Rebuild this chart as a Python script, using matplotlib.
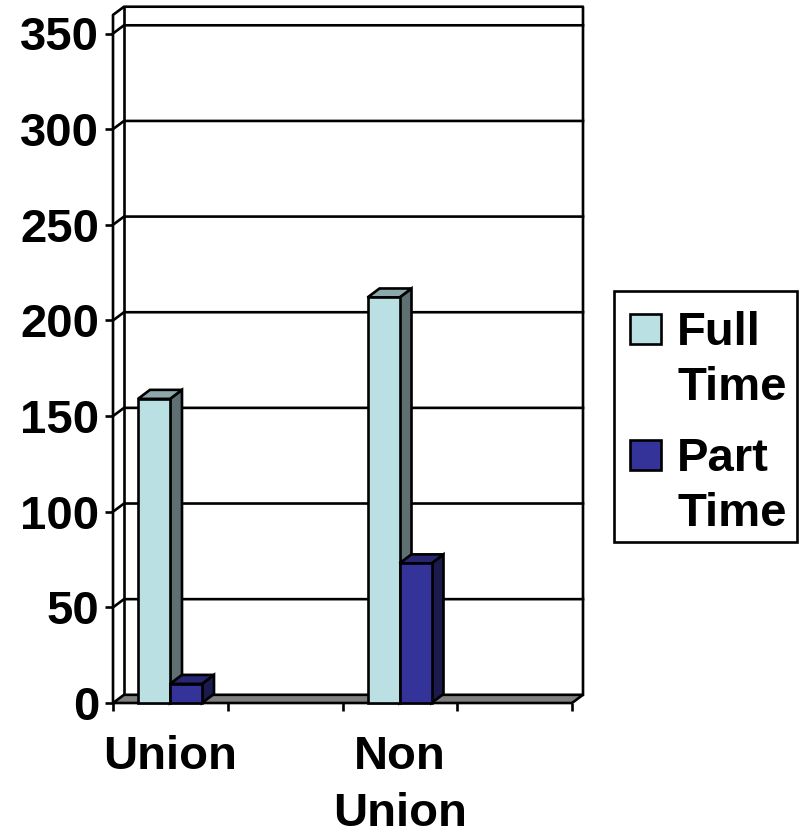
import matplotlib
matplotlib.use('Agg')
import matplotlib.pyplot as plt
from matplotlib.patches import Polygon, Rectangle

# values
cat_pos = [0, 2]
full_time = [159, 212]
part_time = [10, 73]
y_ticks = [0, 50, 100, 150, 200, 250, 300, 350]
x_labels = ['Union', 'Non\nUnion']
series_names = ['Full\nTime', 'Part\nTime']

light = ['#BBE0E3', '#8DA8AA', '#5E7072']
dark = ['#333399', '#262673', '#1A1A4D']
W, H = 801, 835
plt.rcParams['font.family'] = ['Liberation Sans', 'DejaVu Sans']
plt.rcParams['font.weight'] = 'bold'
FS = 34
LW = 1.9

fig = plt.figure(figsize=(W / 100, H / 100), dpi=100)
ax = fig.add_axes([113 / W, 1 - 703 / H, (572 - 113) / W, (703 - 33.5) / H])
ax.set_xlim(0, 4)
ax.set_ylim(0, 350)
for s in ax.spines.values():
    s.set_visible(False)

# depth of the fake 3d box, in data units
dx = 11 / 114.75
dy = 8.2 / 1.913
top = 364
xmax = 4


def poly(pts, fc, z):
    ax.add_patch(Polygon(pts, closed=True, fc=fc, ec='black', lw=LW, zorder=z,
                         clip_on=False, joinstyle='miter'))


def bar3d(x, w, h, cols, z):
    ddx = 12 / 114.75
    ddy = 9 / 1.913
    poly([(x + w, 0), (x + w + ddx, ddy), (x + w + ddx, h + ddy), (x + w, h)], cols[2], z)
    poly([(x, h), (x + ddx, h + ddy), (x + w + ddx, h + ddy), (x + w, h)], cols[1], z)
    poly([(x, 0), (x + w, 0), (x + w, h), (x, h)], cols[0], z + 0.5)


# walls and floor
poly([(0, 0), (xmax, 0), (xmax + dx, dy), (dx, dy)], '#808080', 2)
ax.plot([0, 0, dx, xmax + dx, xmax + dx], [0, top - dy, top, top, dy],
        color='black', lw=LW, clip_on=False, zorder=1)
ax.plot([dx, dx], [dy, top], color='black', lw=LW, clip_on=False, zorder=1)
for t in y_ticks[1:]:
    ax.plot([0, dx, xmax + dx], [t, t + dy, t + dy], color='black', lw=LW,
            clip_on=False, zorder=1)

# bars
bar_w = 32 / 114.75
offs = 25 / 114.75
for i, c in enumerate(cat_pos):
    bar3d(c + offs, bar_w, full_time[i], light, 3)
    bar3d(c + offs + bar_w, bar_w, part_time[i], dark, 4)

ax.set_yticks(y_ticks)
ax.set_yticklabels([str(t) for t in y_ticks], fontsize=FS, fontweight='bold')
ax.set_xticks(range(5))
ax.set_xticklabels([])
ax.tick_params(axis='y', length=6, width=LW, pad=4)
ax.tick_params(axis='x', length=6, width=LW)
ax.set_xticks([0.5, 2.5], labels=x_labels, minor=True,
              fontsize=FS, fontweight='bold', linespacing=1.38)
ax.tick_params(axis='x', which='minor', length=0, pad=23)


# legend box
def fx(p):
    return p / W


def fy(p):
    return 1 - p / H


fig.add_artist(Rectangle((fx(614), fy(542)), 183 / W, 251 / H, fc='white', ec='black',
                         lw=LW, transform=fig.transFigure))
for i, (name, col) in enumerate(zip(series_names, [light[0], dark[0]])):
    y0 = 314 + i * 126
    fig.add_artist(Rectangle((fx(630), fy(y0 + 30)), 31 / W, 30 / H, fc=col, ec='black',
                             lw=LW, transform=fig.transFigure))
    fig.text(fx(677), fy(y0 - 3), name, fontsize=FS, fontweight='bold', va='top',
             ha='left', linespacing=1.31)

fig.savefig('out.png', dpi=100)
